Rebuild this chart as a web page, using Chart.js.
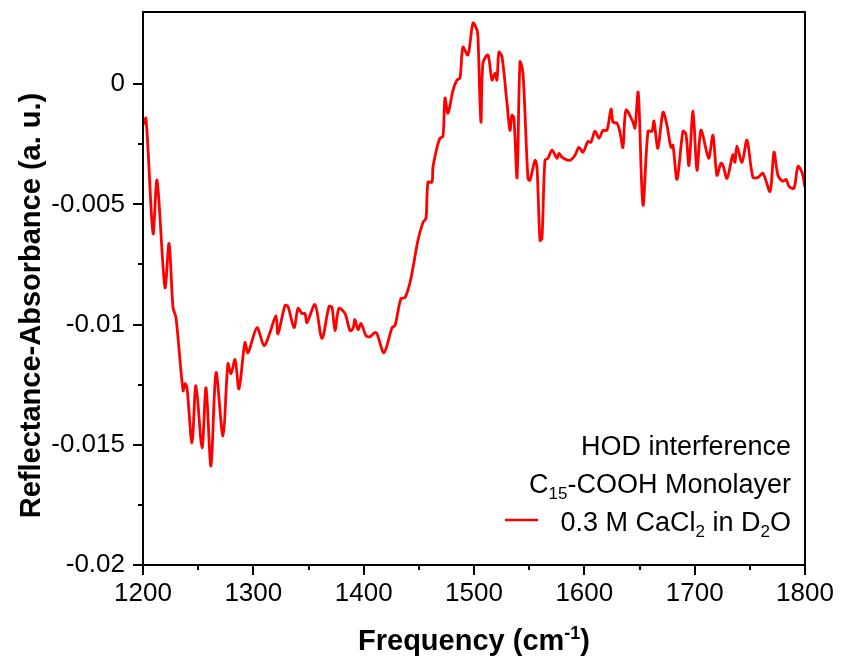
<!DOCTYPE html>
<html>
<head>
<meta charset="utf-8">
<script src="https://cdn.jsdelivr.net/npm/chart.js@4"></script>
<style>
  html, body { margin: 0; padding: 0; background: #fff; }
  canvas { display: block; }
</style>
</head>
<body>
<canvas id="irChart" width="842" height="665"></canvas>
<script>
// frequency (cm-1) and reflectance-absorbance
const freq = [
  1200, 1202.7, 1209.1, 1212.7, 1219.9, 1223.6, 1227.2, 1229.9, 1236.3, 1238.1,
  1239.9, 1244.4, 1248.0, 1253.5, 1257.1, 1261.6, 1266.2, 1272.5, 1277.0, 1279.8,
  1283.4, 1287.0, 1292.4, 1295.2, 1303.3, 1309.7, 1315.1, 1320.5, 1322.3, 1328.7,
  1331.4, 1336.9, 1340.5, 1344.1, 1346.8, 1348.6, 1355.9, 1362.2, 1368.6, 1371.3,
  1374.0, 1377.6, 1383.1, 1387.6, 1390.3, 1392.1, 1394.9, 1397.6, 1402.1, 1405.7,
  1410.3, 1412.1, 1418.4, 1425.7, 1428.4, 1433.8, 1437.5, 1442.0, 1444.7, 1449.2,
  1453.8, 1456.5, 1458.3, 1461.9, 1462.8, 1466.5, 1469.2, 1471.9, 1473.7, 1476.4,
  1481.0, 1484.6, 1487.3, 1490.0, 1494.5, 1499.1, 1502.7, 1503.6, 1506.3, 1508.1,
  1512.7, 1516.3, 1519.0, 1520.8, 1522.6, 1525.4, 1529.9, 1532.6, 1534.4, 1536.2,
  1539.0, 1541.7, 1544.4, 1548.9, 1550.7, 1555.3, 1557.1, 1559.8, 1561.6, 1564.3,
  1567.1, 1570.7, 1575.2, 1577.0, 1579.7, 1587.0, 1591.5, 1595.1, 1598.8, 1603.3,
  1606.0, 1609.6, 1613.3, 1616.9, 1620.5, 1624.2, 1626.0, 1629.6, 1632.3, 1635.0,
  1637.8, 1644.1, 1645.9, 1648.6, 1649.5, 1653.2, 1657.7, 1661.3, 1663.1, 1666.7,
  1671.3, 1674.9, 1678.5, 1680.3, 1684.0, 1689.4, 1692.1, 1694.8, 1698.5, 1702.1,
  1705.7, 1711.2, 1713.0, 1716.6, 1720.2, 1723.8, 1725.7, 1729.3, 1732.9, 1734.7,
  1736.5, 1738.3, 1742.9, 1747.4, 1752.8, 1757.4, 1761.9, 1768.3, 1771.9, 1775.5,
  1780.0, 1782.8, 1785.5, 1790.0, 1793.6, 1797.3, 1800
];
const absorb = [
  -0.0017, -0.00142, -0.00621, -0.0040, -0.00846, -0.00663, -0.00929, -0.00971, -0.01275, -0.01246,
  -0.01263, -0.01492, -0.01254, -0.01513, -0.01263, -0.01588, -0.0120, -0.01463, -0.01163, -0.01204,
  -0.01146, -0.01267, -0.01075, -0.01117, -0.01013, -0.01088, -0.01033, -0.00963, -0.01038, -0.00921,
  -0.00925, -0.01013, -0.00933, -0.00954, -0.00954, -0.00992, -0.00917, -0.01058, -0.00925, -0.00929,
  -0.01025, -0.00933, -0.00954, -0.01025, -0.01017, -0.00979, -0.01021, -0.00996, -0.01046, -0.0105,
  -0.01033, -0.01038, -0.01117, -0.01013, -0.01004, -0.00892, -0.00888, -0.00825, -0.00763, -0.0065,
  -0.00575, -0.00558, -0.00408, -0.00408, -0.00346, -0.00263, -0.00225, -0.00217, -0.00058, -0.00121,
  -0.00025, 0.00017, 0.00025, 0.00154, 0.00121, 0.00254, 0.00225, 0.00196, -0.00158, 0.00088,
  0.00121, 0.00017, 0.00046, 0.00017, 0.00133, 0.00113, -0.00079, -0.00192, -0.00129, -0.00142,
  -0.00388, 0.00092, 0.00046, -0.00392, -0.0040, -0.00317, -0.00346, -0.0065, -0.00642, -0.00317,
  -0.00308, -0.00275, -0.00308, -0.00288, -0.00304, -0.00317, -0.00296, -0.00263, -0.00283, -0.00238,
  -0.00242, -0.00196, -0.00225, -0.00192, -0.00192, -0.00104, -0.00158, -0.00163, -0.0020, -0.00263,
  -0.00108, -0.00158, -0.00183, -0.00033, -0.00079, -0.00504, -0.00196, -0.00196, -0.00154, -0.00267,
  -0.00117, -0.00171, -0.00263, -0.00254, -0.00396, -0.00196, -0.00208, -0.00338, -0.00113, -0.00358,
  -0.00192, -0.00288, -0.00308, -0.00213, -0.00379, -0.00329, -0.00338, -0.00392, -0.00325, -0.00292,
  -0.00325, -0.00258, -0.00325, -0.00233, -0.00388, -0.00388, -0.00371, -0.00446, -0.00283, -0.00379,
  -0.00404, -0.00396, -0.00425, -0.00433, -0.00342, -0.00367, -0.00429
];

// ticks (minor ticks have no label)
const xTicks = [1200, 1250, 1300, 1350, 1400, 1450, 1500, 1550, 1600, 1650, 1700, 1750, 1800];
const xLabels = ["1200", "", "1300", "", "1400", "", "1500", "", "1600", "", "1700", "", "1800"];
const yTicks = [-0.02, -0.0175, -0.015, -0.0125, -0.01, -0.0075, -0.005, -0.0025, 0];
const yLabels = ["-0.02", "", "-0.015", "", "-0.01", "", "-0.005", "", "0"];

const FONT = "'Liberation Sans', Arial, sans-serif";

// write text with sub/superscript pieces, aligned right or centered
function richText(ctx, parts, x, y, size, weight, align) {
  const widths = parts.map(p => {
    ctx.font = `${weight} ${p.s ? Math.round(size * 0.62) : size}px ${FONT}`;
    return ctx.measureText(p.t).width;
  });
  const total = widths.reduce((a, b) => a + b, 0);
  let cx = align === "right" ? x - total : align === "center" ? x - total / 2 : x;
  ctx.textAlign = "left";
  ctx.textBaseline = "alphabetic";
  parts.forEach((p, i) => {
    ctx.font = `${weight} ${p.s ? Math.round(size * 0.62) : size}px ${FONT}`;
    let dy = 0;
    if (p.s === "sub") dy = size * 0.22;
    if (p.s === "sup") dy = -size * 0.38;
    ctx.fillText(p.t, cx, y + dy);
    cx += widths[i];
  });
}

const framePlugin = {
  id: "frame",
  afterDraw(chart) {
    const ctx = chart.ctx;
    const a = chart.chartArea;
    const xs = chart.scales.x, ys = chart.scales.y;
    ctx.save();
    ctx.strokeStyle = "#000";
    ctx.lineWidth = 2;
    ctx.strokeRect(a.left, a.top, a.right - a.left, a.bottom - a.top);

    ctx.beginPath();
    xs.ticks.forEach(t => {
      const px = Math.round(xs.getPixelForValue(t.value));
      const len = t.value % 100 === 0 ? 10 : 5;
      ctx.moveTo(px, a.bottom);
      ctx.lineTo(px, a.bottom + len);
    });
    ys.ticks.forEach(t => {
      const py = Math.round(ys.getPixelForValue(t.value));
      const r = t.value / 0.005;
      const len = Math.abs(r - Math.round(r)) < 1e-6 ? 10 : 5;
      ctx.moveTo(a.left, py);
      ctx.lineTo(a.left - len, py);
    });
    ctx.stroke();

    // axis titles
    ctx.fillStyle = "#000";
    richText(ctx, [{ t: "Frequency (cm" }, { t: "-1", s: "sup" }, { t: ")" }],
      (a.left + a.right) / 2, 650, 29, "bold", "center");
    ctx.save();
    ctx.translate(40, (a.top + a.bottom) / 2 + 17);
    ctx.rotate(-Math.PI / 2);
    richText(ctx, [{ t: "Reflectance-Absorbance (a. u.)" }], 0, 0, 29, "bold", "center");
    ctx.restore();

    // legend block
    const rx = a.right - 14;
    richText(ctx, [{ t: "HOD interference" }], rx, 455, 27, "normal", "right");
    richText(ctx, [{ t: "C" }, { t: "15", s: "sub" }, { t: "-COOH Monolayer" }], rx, 493, 27, "normal", "right");
    richText(ctx, [{ t: "0.3 M CaCl" }, { t: "2", s: "sub" }, { t: " in D" }, { t: "2", s: "sub" }, { t: "O" }],
      rx, 531, 27, "normal", "right");
    ctx.strokeStyle = "#ff0000";
    ctx.lineWidth = 2.5;
    ctx.beginPath();
    ctx.moveTo(505, 520);
    ctx.lineTo(538, 520);
    ctx.stroke();
    ctx.restore();
  }
};

new Chart(document.getElementById("irChart").getContext("2d"), {
  type: "line",
  data: {
    datasets: [{
      data: freq.map((f, i) => ({ x: f, y: absorb[i] })),
      borderColor: "#ff0000",
      borderWidth: 2.8,
      pointRadius: 0,
      tension: 0.3,
      fill: false
    }]
  },
  options: {
    responsive: false,
    animation: false,
    layout: { padding: { top: 12, right: 37, left: 0, bottom: 0 } },
    plugins: { legend: { display: false }, tooltip: { enabled: false } },
    scales: {
      x: {
        type: "linear",
        min: 1200,
        max: 1800,
        afterBuildTicks: s => { s.ticks = xTicks.map(v => ({ value: v })); },
        afterFit: s => { s.height = 100; s.paddingLeft = 0; s.paddingRight = 0; },
        grid: { display: false, drawTicks: false },
        border: { display: false },
        ticks: {
          padding: 13,
          color: "#000",
          font: { family: FONT, size: 26 },
          maxRotation: 0,
          autoSkip: false,
          callback: (v, i) => xLabels[i]
        }
      },
      y: {
        min: -0.02,
        max: 0.003,
        afterBuildTicks: s => { s.ticks = yTicks.map(v => ({ value: v })); },
        afterFit: s => { s.width = 143; s.paddingTop = 0; s.paddingBottom = 0; },
        grid: { display: false, drawTicks: false },
        border: { display: false },
        ticks: {
          padding: 18,
          color: "#000",
          font: { family: FONT, size: 26 },
          autoSkip: false,
          callback: (v, i) => yLabels[i]
        }
      }
    }
  },
  plugins: [framePlugin]
});
</script>
</body>
</html>
